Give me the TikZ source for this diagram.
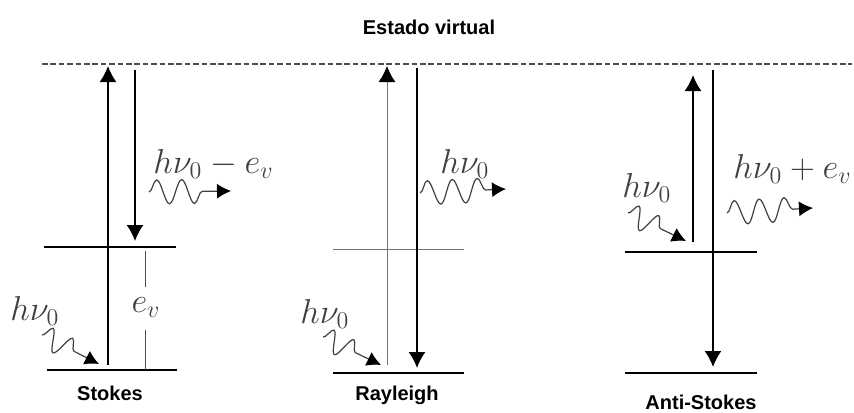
\documentclass[tikz,border=0pt]{standalone}
\usepackage[no-math]{fontspec}
\newfontfamily\labfont{Liberation Sans}
\usetikzlibrary{arrows.meta,decorations.pathmorphing,calc}
\tikzset{
  lvl/.style={line width=0.8pt, black},
  lvlthin/.style={line width=0.5pt, black!55},
  marker/.style={line width=0.5pt, black!70},
  trans/.style={line width=0.8pt, black, -{Latex[length=8pt,width=8.5pt]}},
  transthin/.style={line width=0.5pt, black!55, -{Latex[length=8pt,width=8.5pt,black]}},
  photon/.style={black!75, line width=0.6pt, decorate,
    decoration={snake, segment length=12.5pt, amplitude=6pt, post length=0.5pt}},
  photonsm/.style={photon, decoration={snake, segment length=11pt, amplitude=5.5pt, post length=0.5pt}},
  photontip/.style={black!75, line width=0.6pt, -{Latex[length=7pt,width=7.5pt,black]}},
  virt/.style={line width=0.6pt, black!70, dash pattern=on 2.8pt off 1.4pt},
  lab/.style={font=\labfont\bfseries\fontsize{10}{12}\selectfont, inner sep=0pt, anchor=base},
  mlab/.style={inner sep=0pt, black!75, font=\fontsize{18}{20}\selectfont, anchor=base west}
}
\begin{document}
\begin{tikzpicture}[x=0.5pt,y=-0.5pt]
\useasboundingbox (0,0) rectangle (854,412);

% title and virtual state
\node[lab] (title) at (429,34) {Estado virtual};
\coordinate (vL) at (42,64);
\coordinate (vR) at (852,64);
\draw[virt] (vL) -- (vR);

% ---------------- Stokes ----------------
\coordinate (s1L) at (44,247);
\coordinate (s1R) at (176,247);
\coordinate (s0L) at (47,370);
\coordinate (s0R) at (177,370);
\draw[lvl] (s1L) -- (s1R);
\draw[lvl] (s0L) -- (s0R);
\coordinate (sUpB) at (108,365);
\coordinate (sUpT) at (108,66);
\draw[trans] (sUpB) -- (sUpT);
\coordinate (sDnT) at (135,70);
\coordinate (sDnB) at (135,241);
\draw[trans] (sDnT) -- (sDnB);
\node[mlab, anchor=base] (sEv) at (146,312) {$e_v$};
\coordinate (sEvA) at (145,251);
\coordinate (sEvB) at (145,287);
\coordinate (sEvC) at (145,330);
\coordinate (sEvD) at (145,370);
\draw[marker] (sEvA) -- (sEvB);
\draw[marker] (sEvC) -- (sEvD);
\node[mlab] (sIn) at (10,320) {$h\nu_0$};
\coordinate (sInA) at (42,335);
\coordinate (sInB) at (99,364);
\coordinate (sInM) at ($(sInA)!0.72!(sInB)$);
\draw[photonsm] (sInA) -- (sInM);
\draw[photontip] (sInM) -- (sInB);
\node[mlab] (sOut) at (153,173) {$h\nu_0 - e_v$};
\coordinate (sOutA) at (149,192);
\coordinate (sOutB) at (231,191);
\coordinate (sOutM) at ($(sOutA)!0.79!(sOutB)$);
\draw[photon] (sOutA) -- (sOutM);
\draw[photontip] (sOutM) -- (sOutB);
\node[lab] (stokes) at (110,400) {Stokes};

% ---------------- Rayleigh ----------------
\coordinate (r1L) at (333,249);
\coordinate (r1R) at (464,249);
\coordinate (r0L) at (333,373);
\coordinate (r0R) at (464,373);
\draw[lvlthin] (r1L) -- (r1R);
\draw[lvl] (r0L) -- (r0R);
\coordinate (rUpB) at (387,365);
\coordinate (rUpT) at (387,66);
\draw[transthin] (rUpB) -- (rUpT);
\coordinate (rDnT) at (417,68);
\coordinate (rDnB) at (417,368);
\draw[trans] (rDnT) -- (rDnB);
\node[mlab] (rIn) at (300,323) {$h\nu_0$};
\coordinate (rInA) at (323,337);
\coordinate (rInB) at (381,365);
\coordinate (rInM) at ($(rInA)!0.72!(rInB)$);
\draw[photonsm] (rInA) -- (rInM);
\draw[photontip] (rInM) -- (rInB);
\node[mlab] (rOut) at (440,173) {$h\nu_0$};
\coordinate (rOutA) at (420,193);
\coordinate (rOutB) at (506,189);
\coordinate (rOutM) at ($(rOutA)!0.79!(rOutB)$);
\draw[photon] (rOutA) -- (rOutM);
\draw[photontip] (rOutM) -- (rOutB);
\node[lab] (rayleigh) at (397,400) {Rayleigh};

% ---------------- Anti-Stokes ----------------
\coordinate (a1L) at (625,252);
\coordinate (a1R) at (757,252);
\coordinate (a0L) at (625,373);
\coordinate (a0R) at (757,373);
\draw[lvl] (a1L) -- (a1R);
\draw[lvl] (a0L) -- (a0R);
\coordinate (aUpB) at (693,242);
\coordinate (aUpT) at (693,75);
\draw[trans] (aUpB) -- (aUpT);
\coordinate (aDnT) at (713,70);
\coordinate (aDnB) at (713,367);
\draw[trans] (aDnT) -- (aDnB);
\node[mlab] (aIn) at (622,197) {$h\nu_0$};
\coordinate (aInA) at (628,213);
\coordinate (aInB) at (686,241);
\coordinate (aInM) at ($(aInA)!0.72!(aInB)$);
\draw[photonsm] (aInA) -- (aInM);
\draw[photontip] (aInM) -- (aInB);
\node[mlab] (aOut) at (733,178) {$h\nu_0 + e_v$};
\coordinate (aOutA) at (727,213);
\coordinate (aOutB) at (813,208);
\coordinate (aOutM) at ($(aOutA)!0.79!(aOutB)$);
\draw[photon] (aOutA) -- (aOutM);
\draw[photontip] (aOutM) -- (aOutB);
\node[lab] (antistokes) at (701,409) {Anti-Stokes};
\end{tikzpicture}
\end{document}
